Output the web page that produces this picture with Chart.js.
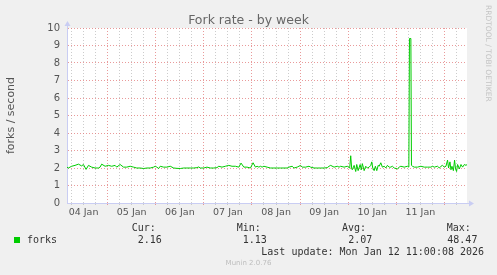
<!DOCTYPE html>
<html>
<head>
<meta charset="utf-8">
<title>Fork rate - by week</title>
<script src="https://cdn.jsdelivr.net/npm/chart.js@4/dist/chart.umd.min.js"></script>
<style>
  html, body { margin: 0; padding: 0; background: #f0f0f0; }
  #wrap { position: relative; width: 497px; height: 275px; overflow: hidden; }
  #chart { position: absolute; left: 0; top: 0; }
  #title { position: absolute; left: 0; width: 497px; top: 12px; text-align: center; font-family: "DejaVu Sans", sans-serif; font-size: 12.5px; line-height: 15px; color: #666; }
  .mono { position: absolute; font-family: "DejaVu Sans Mono", monospace; font-size: 10px; line-height: 12px; color: #333; white-space: pre; }
  #swatch { position: absolute; left: 14px; top: 237px; width: 6px; height: 6px; background: #00cc00; }
  #rrd { position: absolute; left: 484px; top: 5px; writing-mode: vertical-rl; font-family: "DejaVu Sans", sans-serif; font-size: 7.5px; color: #c4c4c4; }
  #munin { position: absolute; left: 0; width: 497px; top: 259px; text-align: center; font-family: "DejaVu Sans", sans-serif; font-size: 7px; line-height: 9px; color: #bdbdbd; }
</style>
</head>
<body>
<div id="wrap">
  <canvas id="chart" width="497" height="275"></canvas>
  <div id="title">Fork rate - by week</div>
  <div id="rrd">RRDTOOL / TOBI OETIKER</div>
  <div id="swatch"></div>
  <div id="legend"></div>
  <div id="munin">Munin 2.0.76</div>
</div>
<script>
// Fork rate, weekly view (hours from left edge of graph)
const hours = [
  0, 0.7, 2.3, 4, 5.7, 7.3, 8.2, 9.5, 10.7, 12.3, 14, 15.7, 16.5, 17.3, 19, 20.7, 22.3, 24, 24.8, 26.5,
  28.2, 29.8, 31.5, 33.2, 34.8, 36.5, 38.2, 39.8, 41.5, 43.2, 44, 44.8, 45.7, 46.5, 48.2, 49.8, 51.5, 53.2, 54.8, 56.5,
  58.2, 59.8, 61.5, 63.2, 64.8, 65.7, 66.5, 68.2, 69.8, 71.5, 73.2, 74.8, 75.7, 77.3, 79, 80.7, 82.3, 84, 85.7, 86.8,
  88.2, 89.8, 91.5, 92.8, 94, 94.8, 95.7, 96.5, 97.3, 98.2, 99.8, 101.5, 103.2, 104.8, 106.5, 108.2, 109.8, 110.7, 112.3, 113.2,
  114.8, 116.5, 117.3, 119, 120.7, 121.5, 123.2, 124.8, 126.5, 128.2, 129.8, 130.7, 131.5, 133.2, 134.8, 135.7, 136.5, 138.2, 139.8, 141,
  141.5, 142, 142.3, 143.2, 144, 144.5, 145.2, 146.2, 146.8, 147.3, 148.2, 149, 149.8, 150.7, 151.5, 152, 152.5, 153.2, 153.8, 154.5,
  155.2, 155.7, 156.5, 157.3, 158.2, 159, 159.8, 160.7, 161.5, 162.3, 163.2, 164.8, 165.7, 166.5, 168.2, 169.8, 170.5, 170.8, 171.5, 171.8,
  172.3, 173.2, 174.8, 176.5, 178.2, 179.8, 181.5, 182.3, 183.2, 184.8, 185.7, 186.5, 187.3, 188.2, 189, 189.8, 190.3, 191, 191.5, 192,
  192.7, 193.3, 193.8, 194.3, 194.8, 195.7, 196.5, 197.3, 198.2, 199, 199.5
];
const forks = [
  2.05, 2.0, 2.1, 2.15, 2.22, 2.12, 2.2, 1.92, 2.15, 2.05, 2.0, 2.0, 2.05, 2.22, 2.1, 2.15, 2.1, 2.15, 2.05, 2.2,
  2.05, 2.05, 2.1, 2.05, 2.0, 2.0, 1.97, 2.0, 2.0, 2.05, 2.1, 2.05, 1.97, 2.1, 2.05, 2.05, 2.1, 2.0, 1.98, 1.97,
  2.0, 2.0, 2.0, 2.0, 2.02, 2.06, 2.0, 2.0, 2.05, 2.0, 2.0, 2.02, 2.1, 2.05, 2.1, 2.15, 2.1, 2.1, 2.05, 2.28,
  2.05, 2.05, 2.0, 2.3, 2.05, 2.1, 2.05, 2.1, 2.05, 2.1, 2.05, 2.0, 2.0, 2.0, 2.0, 2.0, 2.0, 2.05, 2.1, 2.0,
  2.05, 2.15, 2.05, 2.05, 2.1, 2.05, 2.0, 2.0, 2.0, 2.0, 2.02, 2.1, 2.15, 2.05, 2.1, 2.05, 2.1, 2.05, 2.1, 2.0,
  2.7, 1.95, 1.9, 2.15, 1.8, 2.2, 1.85, 2.2, 1.9, 2.25, 1.85, 2.1, 2.0, 2.05, 2.15, 2.35, 2.0, 1.85, 2.1, 1.85,
  2.15, 2.1, 2.3, 2.05, 2.1, 2.0, 2.15, 2.05, 2.05, 2.1, 2.0, 1.95, 2.05, 2.1, 2.05, 2.1, 2.05, 9.4, 9.4, 2.15,
  2.1, 2.05, 2.05, 2.1, 2.05, 2.05, 2.05, 2.1, 2.05, 2.1, 2.0, 2.1, 2.15, 2.05, 2.1, 2.45, 2.0, 2.35, 1.9, 2.1,
  1.85, 2.45, 1.95, 1.8, 2.2, 1.95, 2.2, 2.05, 2.2, 2.15, 2.2
];
const dayLabels = ['04 Jan', '05 Jan', '06 Jan', '07 Jan', '08 Jan', '09 Jan', '10 Jan', '11 Jan'];
const yMax = 10;
const firstMidnight = 20.25; // hours from left edge to 05 Jan 00:00
const spanHours = 199.5;

const statLabels = ['Cur:', 'Min:', 'Avg:', 'Max:'];
const statValues = ['2.16', '1.13', '2.07', '48.47'];
const lastUpdate = 'Last update: Mon Jan 12 11:00:08 2026';

const RED = 'rgba(226, 120, 120, 0.75)';
const GRAY = 'rgba(195, 195, 195, 0.85)';
const AXIS = '#c9cdf3';

function isMidnight(v) { return Math.abs(((v - firstMidnight) % 24 + 24) % 24) < 0.01; }
function isNoon(v) { return Math.abs(((v - firstMidnight + 12) % 24 + 24) % 24) < 0.01; }

// backgrounds + axis arrows
const munFrame = {
    id: 'munFrame',
    beforeDraw(chart) {
        const { ctx, chartArea: a } = chart;
        ctx.save();
        ctx.fillStyle = '#f0f0f0';
        ctx.fillRect(0, 0, chart.width, chart.height);
        ctx.fillStyle = '#ffffff';
        ctx.fillRect(a.left, a.top, a.right - a.left, a.bottom - a.top);
        ctx.restore();
    },
    afterDraw(chart) {
        const { ctx, chartArea: a } = chart;
        ctx.save();
        ctx.strokeStyle = AXIS;
        ctx.fillStyle = AXIS;
        ctx.lineWidth = 1;
        ctx.beginPath();
        ctx.moveTo(a.left + 0.5, a.top);
        ctx.lineTo(a.left + 0.5, a.top - 3);
        ctx.moveTo(a.right, a.bottom + 0.5);
        ctx.lineTo(a.right + 3, a.bottom + 0.5);
        ctx.stroke();
        ctx.beginPath();
        ctx.moveTo(a.left - 2.5, a.top - 2);
        ctx.lineTo(a.left + 3.5, a.top - 2);
        ctx.lineTo(a.left + 0.5, a.top - 7);
        ctx.closePath();
        ctx.fill();
        ctx.beginPath();
        ctx.moveTo(a.right + 2, a.bottom - 2.5);
        ctx.lineTo(a.right + 2, a.bottom + 3.5);
        ctx.lineTo(a.right + 7, a.bottom + 0.5);
        ctx.closePath();
        ctx.fill();
        ctx.restore();
    }
};

function initializeChart() {
    const ctx = document.getElementById('chart');
    new Chart(ctx, {
        type: 'line',
        data: {
            datasets: [{
                label: 'forks',
                data: hours.map((h, i) => ({ x: h, y: forks[i] })),
                borderColor: '#00cc00',
                borderWidth: 1,
                pointRadius: 0,
                tension: 0,
                fill: false
            }]
        },
        options: {
            responsive: false,
            animation: false,
            events: [],
            layout: { padding: { left: 0, right: 30, top: 28, bottom: 52 } },
            plugins: {
                legend: { display: false },
                tooltip: { enabled: false },
                title: { display: false }
            },
            scales: {
                x: {
                    type: 'linear',
                    min: 0,
                    max: spanHours,
                    afterBuildTicks(scale) {
                        const t = [];
                        for (let v = firstMidnight - 18; v <= spanHours; v += 6) t.push({ value: v });
                        scale.ticks = t;
                    },
                    afterFit(scale) { scale.height = 20; },
                    ticks: {
                        autoSkip: false,
                        maxRotation: 0,
                        padding: 2,
                        color: '#555',
                        font: { family: 'DejaVu Sans', size: 9.5 },
                        callback(v) {
                            if (!isNoon(v)) return '';
                            return dayLabels[Math.round((v - firstMidnight + 12) / 24)] || '';
                        }
                    },
                    grid: {
                        color: (c) => isMidnight(c.tick.value) ? RED : GRAY,
                        tickColor: (c) => isMidnight(c.tick.value) ? RED : GRAY,
                        tickLength: 2,
                        lineWidth: 1
                    },
                    border: { color: AXIS, width: 1, dash: [1, 2] }
                },
                y: {
                    min: 0,
                    max: yMax,
                    afterFit(scale) { scale.width = 67; },
                    ticks: {
                        stepSize: 0.5,
                        padding: 7,
                        color: '#555',
                        font: { family: 'DejaVu Sans', size: 10 },
                        callback: (v) => Number.isInteger(v) ? String(v) : ''
                    },
                    grid: {
                        drawTicks: false,
                        color: (c) => Number.isInteger(c.tick.value) ? RED : GRAY,
                        lineWidth: 1
                    },
                    border: { color: AXIS, width: 1, dash: [1, 2] },
                    title: {
                        display: true,
                        text: 'forks / second',
                        color: '#555',
                        font: { family: 'DejaVu Sans', size: 11 },
                        padding: { top: 4.4 }
                    }
                }
            }
        },
        plugins: [munFrame]
    });
}

function buildLegend() {
    const box = document.getElementById('legend');
    const add = (text, left, cy) => {
        const d = document.createElement('div');
        d.className = 'mono';
        d.textContent = text;
        d.style.left = left + 'px';
        d.style.top = (cy - 6) + 'px';
        box.appendChild(d);
    };
    const labelX = [131.7, 236.7, 342, 446.7];
    const valueX = [137.7, 242.7, 348.3, 447.3];
    add('forks', 27, 239.7);
    statLabels.forEach((s, i) => add(s, labelX[i], 227.7));
    statValues.forEach((s, i) => add(s, valueX[i], 239.7));
    add(lastUpdate, 261.3, 251.7);
}

document.addEventListener('DOMContentLoaded', function() {
    initializeChart();
    buildLegend();
});
</script>
</body>
</html>
